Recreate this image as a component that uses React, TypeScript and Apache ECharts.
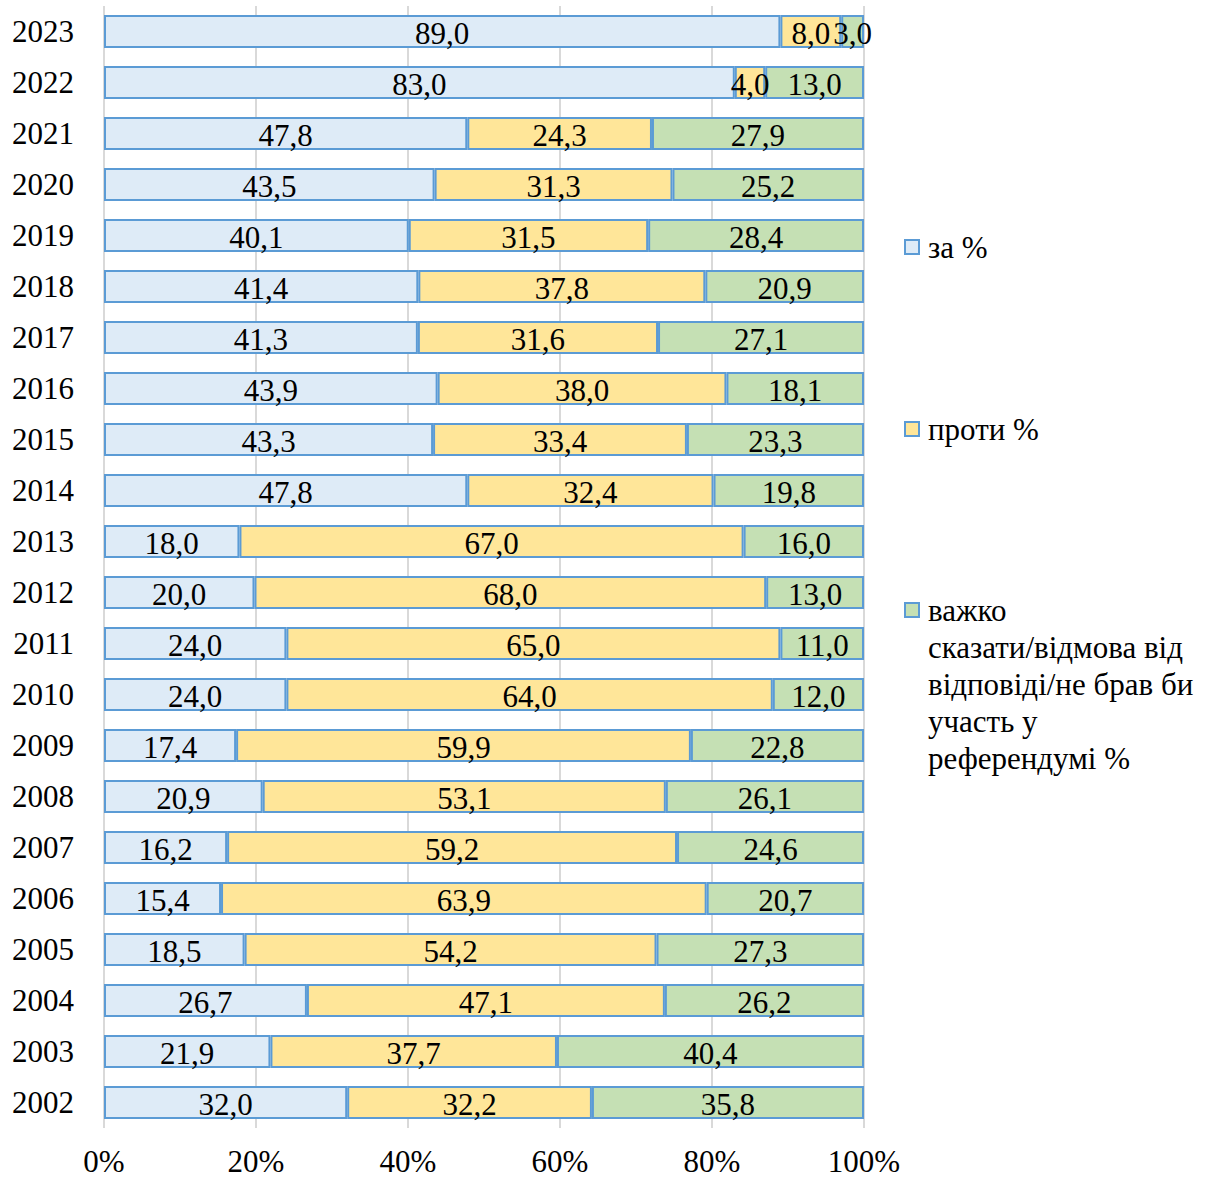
import React, { useEffect, useRef } from "react";
import * as echarts from "echarts";

const years = ["2002","2003","2004","2005","2006","2007","2008","2009","2010","2011","2012","2013","2014","2015","2016","2017","2018","2019","2020","2021","2022","2023"];
const forValues = [32.0,21.9,26.7,18.5,15.4,16.2,20.9,17.4,24.0,24.0,20.0,18.0,47.8,43.3,43.9,41.3,41.4,40.1,43.5,47.8,83.0,89.0];
const againstValues = [32.2,37.7,47.1,54.2,63.9,59.2,53.1,59.9,64.0,65.0,68.0,67.0,32.4,33.4,38.0,31.6,37.8,31.5,31.3,24.3,4.0,8.0];
const hardValues = [35.8,40.4,26.2,27.3,20.7,24.6,26.1,22.8,12.0,11.0,13.0,16.0,19.8,23.3,18.1,27.1,20.9,28.4,25.2,27.9,13.0,3.0];
const xTicks = [0, 20, 40, 60, 80, 100];

const seriesNames = [
  "за %",
  "проти %",
  "важко\nсказати/відмова від\nвідповіді/не брав би\nучасть у\nреферендумі %",
];

const FONT = "Liberation Serif";
const FS = 31;

export default function App() {
  const ref = useRef<HTMLDivElement>(null);
  useEffect(() => {
    document.body.style.margin = "0";
    const chart = echarts.init(ref.current!, null, { renderer: "svg" });
    const raw = [forValues, againstValues, hardValues];
    const totals = years.map((_, i) => forValues[i] + againstValues[i] + hardValues[i]);
    const fills = ["#DEEBF7", "#FFE699", "#C5E0B4"];
    const fmt = (v: number) => v.toFixed(1).replace(".", ",");
    const series = raw.map((arr, s) => ({
      name: seriesNames[s],
      type: "bar",
      stack: "total",
      barWidth: 33,
      data: arr.map((v, i) => (v / totals[i]) * 100),
      itemStyle: { color: fills[s], borderColor: "#5B9BD5", borderWidth: 2 },
      label: {
        show: true,
        position: "inside",
        offset: [0, 2],
        color: "#000",
        fontFamily: FONT,
        fontSize: FS,
        formatter: (p: any) => fmt(arr[p.dataIndex]),
      },
    }));
    const legendBase = {
      orient: "vertical",
      left: 904,
      padding: 0,
      itemWidth: 14,
      itemHeight: 14,
      icon: "rect",
      selectedMode: false,
    };
    const legendText = { color: "#000", fontFamily: FONT, fontSize: FS, lineHeight: 37, padding: [0, 0, 0, 4] };
    chart.setOption({
      animation: false,
      grid: { left: 104, right: 341, top: 6, bottom: 51, containLabel: false },
      xAxis: {
        type: "value",
        min: 0,
        max: 100,
        interval: 20,
        axisLine: { show: false },
        axisTick: { show: false },
        splitLine: { show: true, lineStyle: { color: "#D9D9D9", width: 2 } },
        axisLabel: {
          formatter: (v: number) => (xTicks.includes(v) ? v + "%" : ""),
          color: "#000",
          fontFamily: FONT,
          fontSize: FS,
          lineHeight: 28,
          margin: 19,
        },
      },
      yAxis: {
        type: "category",
        data: years,
        axisLine: { show: false },
        axisTick: { show: false },
        axisLabel: { color: "#000", fontFamily: FONT, fontSize: FS, margin: 30 },
      },
      legend: [
        {
          ...legendBase,
          top: 228.5,
          data: [{ name: seriesNames[0], itemStyle: { borderColor: "#5B9BD5", borderWidth: 2 } }],
          textStyle: legendText,
        },
        {
          ...legendBase,
          top: 410.5,
          data: [{ name: seriesNames[1], itemStyle: { borderColor: "#5B9BD5", borderWidth: 2 } }],
          textStyle: legendText,
        },
        {
          ...legendBase,
          top: 443.5,
          data: [{ name: seriesNames[2], itemStyle: { borderColor: "#5B9BD5", borderWidth: 2 } }],
          formatter: (name: string) => "\n\n\n\n" + name,
          textStyle: legendText,
        },
      ],
      series,
    });
    return () => chart.dispose();
  }, []);
  return <div ref={ref} style={{ width: 1205, height: 1179 }} />;
}
